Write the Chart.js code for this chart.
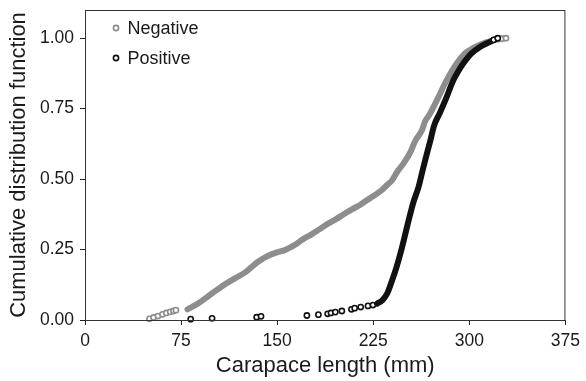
<!DOCTYPE html>
<html><head><meta charset="utf-8">
<script src="https://cdn.jsdelivr.net/npm/chart.js@4/dist/chart.umd.min.js"></script>
<style>html,body{margin:0;padding:0;background:#fff}</style>
</head><body>
<canvas id="c" width="586" height="381"></canvas>
<script>
// ---- data ----
const xTicks = [0, 75, 150, 225, 300, 375];
const yTicks = [0, 0.25, 0.5, 0.75, 1.0];
const seriesNames = ['Negative', 'Positive'];
const xTitle = 'Carapace length (mm)';
const yTitle = 'Cumulative distribution function';

// Negative: isolated small-size circles, then the dense curve
const negTailX = [50.3, 53.5, 57, 60.5, 63.5, 66.5, 69, 71];
const negTailY = [0.004, 0.009, 0.014, 0.020, 0.025, 0.029, 0.032, 0.035];
const negX = [80, 85, 90, 95, 99.2, 104, 109.6, 117, 125, 130, 134.5, 139, 143, 150, 156, 160, 165, 170, 176.5, 183, 189.4, 196, 202.3, 209, 215.2, 220, 225.5, 232, 236, 239.7, 243.6, 248.7, 253.9, 257.7, 262.9, 265.5, 269.3, 275.8, 282.2, 289.9, 296.4, 303.9, 313.1, 320, 325, 328.6];
const negY = [0.038, 0.050, 0.064, 0.080, 0.095, 0.110, 0.128, 0.148, 0.169, 0.188, 0.205, 0.218, 0.228, 0.240, 0.248, 0.257, 0.270, 0.286, 0.303, 0.322, 0.341, 0.358, 0.376, 0.394, 0.410, 0.425, 0.441, 0.462, 0.480, 0.496, 0.525, 0.556, 0.595, 0.635, 0.672, 0.705, 0.732, 0.790, 0.850, 0.909, 0.945, 0.967, 0.985, 0.993, 0.998, 1.000];

// Positive: isolated small-size circles, then the dense curve
const posTailX = [82.5, 99.2, 134, 137.4, 173.2, 182.2, 189.4, 192, 195.4, 200.5, 208, 210.5, 215.2, 220.9, 224.8];
const posTailY = [0.003, 0.006, 0.010, 0.013, 0.016, 0.019, 0.022, 0.025, 0.028, 0.032, 0.038, 0.042, 0.046, 0.050, 0.053];
const posX = [228, 232, 236, 239.7, 243, 246.1, 249.5, 252.6, 256.5, 260.3, 263.5, 266.8, 269.5, 272.5, 277, 282.2, 287.4, 291, 295.1, 301.5, 308, 315.7, 319, 322.2];
const posY = [0.058, 0.070, 0.095, 0.140, 0.185, 0.234, 0.295, 0.353, 0.420, 0.471, 0.530, 0.589, 0.635, 0.690, 0.735, 0.790, 0.850, 0.880, 0.909, 0.945, 0.968, 0.986, 0.994, 1.000];

const GRAY = '#8d8d8d';
const BLACK = '#111111';
const FONT = '"Liberation Sans", Arial, Helvetica, sans-serif';

const pts = (xs, ys) => xs.map((x, i) => ({x: x, y: ys[i]}));
const endRadius = (n) => (ctx) => (ctx.dataIndex >= n - 2 ? 2.6 : 0);

const boxPlugin = {
  id: 'box',
  afterDraw(chart) {
    const a = chart.chartArea, ctx = chart.ctx;
    ctx.save();
    ctx.strokeStyle = '#333';
    ctx.lineWidth = 1;
    ctx.strokeRect(a.left + 0.5, a.top + 0.5, a.right - a.left - 1, a.bottom - a.top);
    // in-plot legend
    const items = [[seriesNames[0], GRAY], [seriesNames[1], BLACK]];
    ctx.font = '18px ' + FONT;
    ctx.textBaseline = 'middle';
    items.forEach((it, i) => {
      const cy = a.top + 18 + i * 30;
      ctx.beginPath();
      ctx.arc(a.left + 31, cy, 2.6, 0, Math.PI * 2);
      ctx.fillStyle = '#fff';
      ctx.fill();
      ctx.lineWidth = 1.6;
      ctx.strokeStyle = it[1];
      ctx.stroke();
      ctx.fillStyle = '#1a1a1a';
      ctx.fillText(it[0], a.left + 42.5, cy + 1);
    });
    ctx.restore();
  }
};

new Chart(document.getElementById('c'), {
  type: 'scatter',
  data: {
    datasets: [
      { label: seriesNames[1], data: pts(posX, posY), showLine: true,
        borderColor: BLACK, borderWidth: 6, borderCapStyle: 'round', borderJoinStyle: 'round',
        cubicInterpolationMode: 'monotone',
        pointRadius: endRadius(posX.length), pointBorderWidth: 1.6,
        pointBorderColor: BLACK, pointBackgroundColor: '#fff' },
      { label: seriesNames[1] + ' tail', data: pts(posTailX, posTailY), showLine: false,
        pointRadius: 2.6, pointBorderWidth: 1.6, pointBorderColor: BLACK, pointBackgroundColor: '#fff' },
      { label: seriesNames[0], data: pts(negX, negY), showLine: true,
        borderColor: GRAY, borderWidth: 6, borderCapStyle: 'round', borderJoinStyle: 'round',
        cubicInterpolationMode: 'monotone',
        pointRadius: endRadius(negX.length), pointBorderWidth: 1.6,
        pointBorderColor: GRAY, pointBackgroundColor: '#fff' },
      { label: seriesNames[0] + ' tail', data: pts(negTailX, negTailY), showLine: false,
        pointRadius: 2.6, pointBorderWidth: 1.6, pointBorderColor: GRAY, pointBackgroundColor: '#fff' }
    ]
  },
  options: {
    responsive: false,
    devicePixelRatio: 1,
    animation: false,
    clip: false,
    layout: { padding: { top: 10, right: 15, left: 0, bottom: 0 } },
    plugins: { legend: { display: false }, tooltip: { enabled: false } },
    scales: {
      x: {
        type: 'linear', min: 0, max: 375,
        afterBuildTicks: (s) => { s.ticks = xTicks.map(v => ({value: v})); },
        afterFit: (s) => { s.height = 61; },
        ticks: { color: '#1a1a1a', padding: 6, font: { family: FONT, size: 17.5 }, maxRotation: 0,
                 callback: (v) => String(v) },
        grid: { display: true, drawOnChartArea: false, drawTicks: true, tickLength: 5, color: '#222', tickWidth: 1 },
        border: { display: true, color: '#222', width: 1 },
        title: { display: true, text: xTitle, color: '#1a1a1a', font: { family: FONT, size: 22 }, padding: { top: 4, bottom: 2 } }
      },
      y: {
        type: 'linear', min: 0, max: 1.1,
        afterBuildTicks: (s) => { s.ticks = yTicks.map(v => ({value: v})); },
        afterFit: (s) => { s.width = 85; s.paddingTop = 0; s.paddingBottom = 0; },
        ticks: { color: '#1a1a1a', padding: 6, font: { family: FONT, size: 17.5 },
                 callback: (v) => Number(v).toFixed(2) },
        grid: { display: true, drawOnChartArea: false, drawTicks: true, tickLength: 5, color: '#222', tickWidth: 1 },
        border: { display: true, color: '#222', width: 1 },
        title: { display: true, text: yTitle, color: '#1a1a1a', font: { family: FONT, size: 22 }, padding: { top: 6, bottom: 2 } }
      }
    }
  },
  plugins: [boxPlugin]
});
</script>
</body></html>
